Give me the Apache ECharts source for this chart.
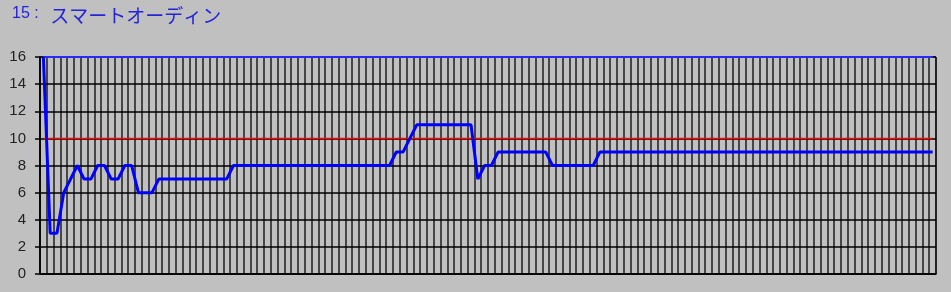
<!DOCTYPE html>
<html>
<head>
<meta charset="utf-8">
<script src="https://cdn.jsdelivr.net/npm/echarts@6/dist/echarts.min.js"></script>
<style>
html,body{margin:0;padding:0;background:#c0c0c0;}
#chart{width:951px;height:292px;}
</style>
</head>
<body>
<div id="chart"></div>
<script>
var titleNumber = '15 : ';
var titleName = 'スマートオーディン';
var categories = [];
for (var k = 1; k <= 132; k++) categories.push(String(k));
var values = [
  16, 3, 3, 6, 7, 8, 7, 7, 8, 8, 7, 7, 8, 8, 6, 6, 6,
  7, 7, 7, 7, 7, 7, 7, 7, 7, 7, 7,
  8, 8, 8, 8, 8, 8, 8, 8, 8, 8, 8, 8, 8, 8, 8, 8, 8, 8, 8, 8, 8, 8, 8, 8,
  9, 9, 10,
  11, 11, 11, 11, 11, 11, 11, 11, 11,
  7, 8, 8,
  9, 9, 9, 9, 9, 9, 9, 9,
  8, 8, 8, 8, 8, 8, 8,
  9, 9, 9, 9, 9, 9, 9, 9, 9, 9, 9, 9, 9, 9, 9, 9, 9, 9, 9, 9, 9, 9, 9, 9, 9,
  9, 9, 9, 9, 9, 9, 9, 9, 9, 9, 9, 9, 9, 9, 9, 9, 9, 9, 9, 9, 9, 9, 9, 9, 9
];
var upperLimit = 16;
var redLevel = 10;
var yTicks = [0, 2, 4, 6, 8, 10, 12, 14, 16];

var upperSeries = categories.map(function () { return upperLimit; });
var redSeries = categories.map(function () { return redLevel; });

var chart = echarts.init(document.getElementById('chart'), null, {renderer: 'canvas'});
chart.setOption({
  animation: false,
  backgroundColor: '#c0c0c0',
  title: {
    text: '{a|' + titleNumber + '}{c|' + titleName + '}',
    left: 7,
    top: 1,
    textStyle: {
      fontWeight: 'normal',
      rich: {
        a: {
          fontFamily: '"Liberation Sans", Arial, sans-serif',
          fontSize: 16,
          fontWeight: 'normal',
          color: '#2323d8',
          verticalAlign: 'bottom',
          padding: [0, 0, 3, 0]
        },
        c: {
          fontFamily: '"Noto Sans CJK JP", sans-serif',
          fontSize: 19,
          fontWeight: 'normal',
          color: '#2323d8',
          padding: [0, 0, 0, 7]
        }
      }
    }
  },
  grid: {
    left: 40,
    right: 15,
    top: 57,
    bottom: 18,
    show: true,
    backgroundColor: '#c0c0c0',
    borderColor: '#000',
    borderWidth: 1
  },
  xAxis: {
    type: 'category',
    data: categories,
    boundaryGap: true,
    axisLabel: {show: false},
    axisTick: {show: false},
    axisLine: {show: true, lineStyle: {color: '#000', width: 1.5}},
    splitLine: {show: true, interval: 0, lineStyle: {color: '#000', width: 1.5, opacity: 0.85}}
  },
  yAxis: {
    type: 'value',
    min: yTicks[0],
    max: yTicks[yTicks.length - 1],
    interval: yTicks[1] - yTicks[0],
    axisLine: {show: true, lineStyle: {color: '#000', width: 1.5}},
    axisTick: {show: true, length: 5, lineStyle: {color: '#000', width: 1.5}},
    axisLabel: {
      margin: 14,
      fontFamily: '"Liberation Sans", Arial, sans-serif',
      fontSize: 15,
      color: '#222'
    },
    splitLine: {show: true, lineStyle: {color: '#000', width: 1.5}}
  },
  series: [
    {
      type: 'line',
      data: upperSeries,
      symbol: 'none',
      lineStyle: {color: '#2a2aff', width: 2},
      z: 3
    },
    {
      type: 'line',
      data: redSeries,
      symbol: 'none',
      lineStyle: {color: '#ff0000', width: 1.5},
      z: 3
    },
    {
      type: 'line',
      data: values,
      symbol: 'none',
      lineStyle: {color: '#0000ff', width: 3},
      z: 4
    }
  ]
});
</script>
</body>
</html>
